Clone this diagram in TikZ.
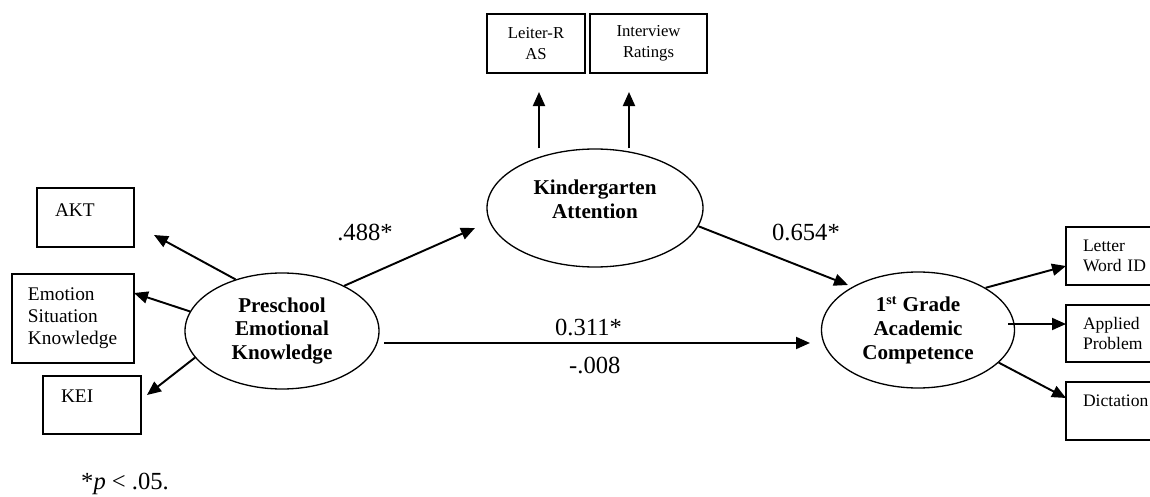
\documentclass[tikz,border=0pt]{standalone}
\usepackage{fontspec}
\setmainfont{Liberation Serif}
\usetikzlibrary{shapes.geometric,arrows.meta}

\begin{document}
\begin{tikzpicture}[
	latent/.style={draw, ellipse, line width=0.75pt, inner sep=0pt, align=center, font=\fontsize{12}{13.5}\selectfont\bfseries},
	obs/.style={draw, rectangle, line width=0.8pt, inner ysep=0pt, align=left, font=\fontsize{11}{12.5}\selectfont},
	link/.style={-{Triangle[length=0.28cm,width=0.24cm]}, line width=1.1pt},
	coef/.style={font=\fontsize{14}{16}\selectfont}
]
			\useasboundingbox (0,0) rectangle (23,9.92);

			\coordinate (tipA) at (3.08,5.22);
			\coordinate (tipE) at (2.68,4.06);
			\coordinate (tipK) at (2.94,2.02);
			\coordinate (tipKA) at (9.50,5.36);
			\coordinate (hA) at (7.68,3.06);
			\coordinate (hB) at (16.20,3.06);
			\coordinate (tipL) at (10.78,8.08);
			\coordinate (tipI) at (12.58,8.08);
			\coordinate (tipG) at (16.96,4.22);
			\coordinate (gA) at (20.16,3.44);
			\coordinate (tipW) at (21.32,4.60);
			\coordinate (tipAP) at (21.32,3.44);
			\coordinate (tipD) at (21.32,1.96);

			% Draw the latent variables
			\node[latent, minimum width=3.88cm, minimum height=2.32cm] (pek) at (5.64,3.30) {Preschool\\Emotional\\Knowledge};
			\node[latent, minimum width=4.32cm, minimum height=2.36cm, text depth=0.34cm] (kat) at (11.90,5.76) {Kindergarten\\Attention};
			\node[latent, minimum width=3.86cm, minimum height=2.32cm] (gac) at (18.36,3.32) {1\textsuperscript{st} Grade\\Academic\\Competence};

			% Draw the indicators
			\node[obs, text width=1.22cm, inner xsep=0.36cm, minimum height=1.18cm, text depth=0.3cm] (akt) at (1.71,5.57) {AKT};
			\node[obs, text width=1.80cm, inner xsep=0.32cm, minimum height=1.78cm] (esk) at (1.46,3.55) {Emotion\\Situation\\Knowledge};
			\node[obs, text width=1.24cm, inner xsep=0.36cm, minimum height=1.16cm, text depth=0.35cm] (kei) at (1.84,1.82) {KEI};
			\node[obs, align=center, text width=1.76cm, inner xsep=0.1cm, minimum height=1.18cm, font=\fontsize{9.5}{12}\selectfont] (lei) at (10.72,9.05) {Leiter-R\\AS};
			\node[obs, align=center, text width=2.14cm, inner xsep=0.1cm, minimum height=1.18cm, font=\fontsize{9.5}{12}\selectfont] (ivr) at (12.97,9.05) {Interview\\Ratings};
			\node[obs, text width=1.52cm, inner xsep=0.34cm, minimum height=1.16cm, font=\fontsize{10}{11.5}\selectfont] (lwi) at (22.42,4.80) {Letter\\Word ID};
			\node[obs, text width=1.52cm, inner xsep=0.34cm, minimum height=1.14cm, font=\fontsize{10}{11.5}\selectfont] (apb) at (22.42,3.25) {Applied\\Problem};
			\node[obs, text width=1.52cm, inner xsep=0.34cm, minimum height=1.16cm, text depth=0.4cm, font=\fontsize{10}{11.5}\selectfont] (dic) at (22.42,1.70) {Dictation};

			% Draw the paths
			\draw[link] (pek.132) -- (tipA);
			\draw[link] (pek.168) -- (tipE);
			\draw[link] (pek.197) -- (tipK);
			\draw[link] (pek.36) -- (tipKA);
			\draw[link] (hA) -- (hB)
				node[coef, pos=0.48, above] (b311) {0.311*}
				node[coef, pos=0.495, below=4pt] (b008) {-.008};
			\draw[link] (kat.north -| tipL) -- (tipL);
			\draw[link] (kat.north -| tipI) -- (tipI);
			\draw[link] (kat.-10) -- (tipG);
			\draw[link] (gac.32) -- (tipW);
			\draw[link] (gA) -- (tipAP);
			\draw[link] (gac.-22) -- (tipD);

			% Label the paths
			\node[coef] (b488) at (7.30,5.28) {.488*};
			\node[coef] (b654) at (16.12,5.28) {0.654*};
			\node[coef, anchor=base west] (note) at (1.50,0.14) {*\textit{p} < .05.};

		\end{tikzpicture}
\end{document}
